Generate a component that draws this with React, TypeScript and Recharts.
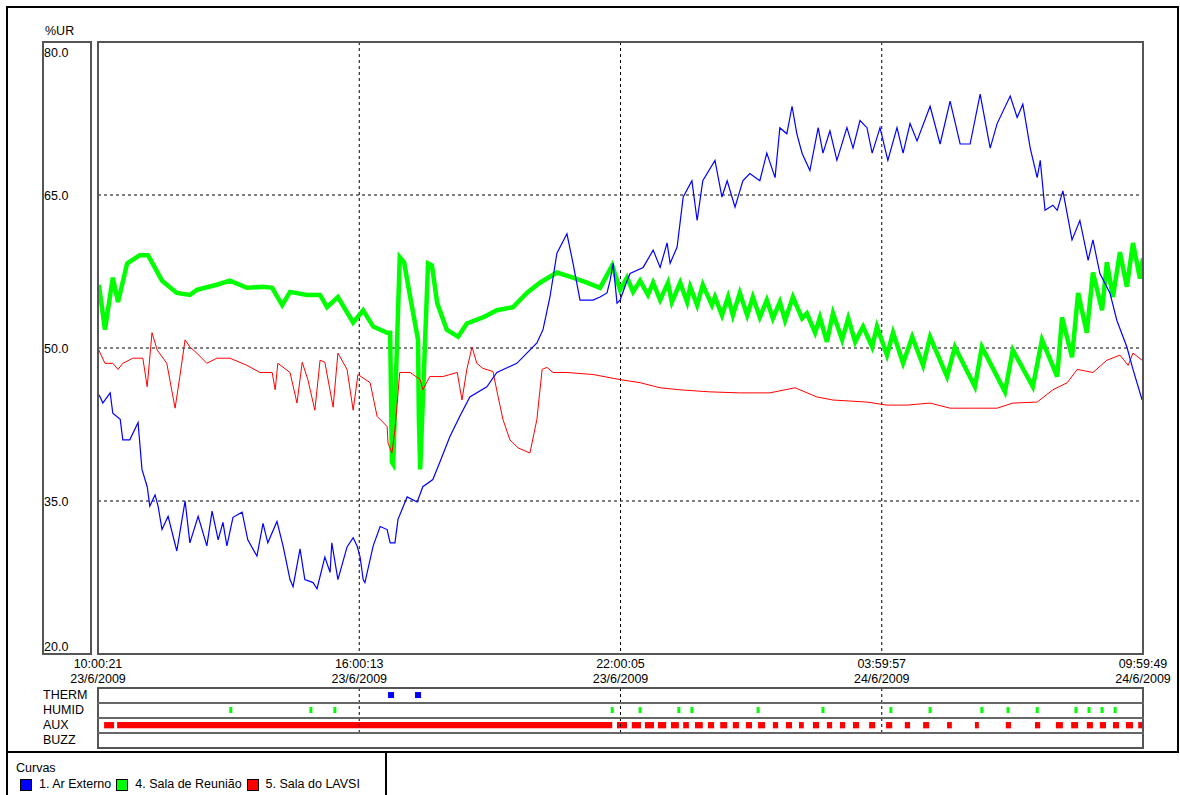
import React from 'react';
import {
  LineChart,
  Line,
  XAxis,
  YAxis,
  CartesianGrid,
  ComposedChart,
  ReferenceArea,
  ReferenceDot,
  ReferenceLine,
} from 'recharts';

const FONT = '"Liberation Sans", Arial, Helvetica, sans-serif';
const FS = 12.5;

// ---- axes ----
const xTickHours = [0, 6, 12, 18, 24];
const xTickTimes = ['10:00:21', '16:00:13', '22:00:05', '03:59:57', '09:59:49'];
const xTickDates = ['23/6/2009', '23/6/2009', '23/6/2009', '24/6/2009', '24/6/2009'];
const yTicks = [20, 35, 50, 65, 80];
const yTickLabels = ['20.0', '35.0', '50.0', '65.0', '80.0'];
const yUnit = '%UR';

// ---- series: hours since 10:00:21 on 23/6/2009, values in %UR ----
const blueHours = [
  0.02, 0.05, 0.11, 0.28, 0.34, 0.51, 0.57, 0.73, 0.92, 1.01, 1.13, 1.19, 1.31, 1.38, 1.47, 1.61, 1.81, 1.88,
  2.0, 2.11, 2.3, 2.5, 2.62, 2.76, 2.87, 2.96, 3.1, 3.31, 3.44, 3.65, 3.79, 3.9, 4.11, 4.25, 4.41, 4.48, 4.64,
  4.75, 4.94, 5.03, 5.21, 5.33, 5.37, 5.51, 5.72, 5.86, 5.95, 6.02, 6.09, 6.13, 6.32, 6.48, 6.64, 6.71, 6.82,
  6.89, 7.1, 7.33, 7.46, 7.69, 7.85, 8.08, 8.31, 8.54, 8.93, 9.16, 9.62, 10.08, 10.22, 10.38, 10.54, 10.77,
  10.91, 11.07, 11.37, 11.53, 11.69, 11.76, 11.83, 11.92, 11.99, 12.15, 12.22, 12.52, 12.75, 12.91, 13.07,
  13.14, 13.3, 13.44, 13.64, 13.76, 13.89, 14.17, 14.33, 14.45, 14.63, 14.81, 14.97, 15.2, 15.36, 15.55,
  15.66, 15.82, 15.94, 16.05, 16.17, 16.35, 16.54, 16.65, 16.81, 16.97, 17.2, 17.34, 17.5, 17.66, 17.78,
  17.96, 18.14, 18.35, 18.49, 18.65, 18.81, 19.11, 19.34, 19.57, 19.8, 20.03, 20.26, 20.49, 20.65, 20.95,
  21.11, 21.24, 21.41, 21.57, 21.64, 21.75, 21.93, 22.03, 22.16, 22.37, 22.55, 22.74, 22.85, 23.01, 23.24,
  23.4, 23.63, 23.77, 23.98,
];
const blueValues = [
  45.4, 45.2, 44.6, 45.6, 43.6, 43.0, 41.0, 41.0, 42.7, 38.1, 36.4, 34.5, 35.6, 34.5, 32.2, 33.5, 30.1, 31.9,
  35.0, 30.9, 33.5, 30.6, 34.0, 31.2, 32.9, 30.6, 33.4, 33.9, 31.2, 29.6, 32.8, 30.9, 33.0, 30.6, 27.3, 26.6,
  30.3, 27.3, 27.0, 26.4, 29.5, 28.0, 30.9, 27.3, 30.5, 31.4, 30.6, 29.5, 27.3, 27.0, 30.6, 32.5, 32.2, 30.9,
  30.9, 33.2, 35.4, 34.9, 36.4, 37.1, 38.8, 41.3, 43.3, 45.2, 46.2, 47.6, 48.5, 50.5, 51.8, 55.0, 59.3, 61.2,
  58.3, 54.7, 54.7, 55.0, 55.4, 56.6, 58.3, 54.4, 54.7, 56.6, 57.3, 57.9, 59.6, 57.9, 60.3, 58.3, 59.9, 64.8,
  66.4, 62.5, 66.4, 68.4, 64.8, 66.4, 63.8, 66.4, 67.1, 66.4, 69.1, 66.7, 71.6, 71.0, 73.7, 71.0, 69.1, 67.4,
  71.6, 69.1, 71.3, 68.4, 71.6, 69.6, 72.3, 71.6, 69.1, 71.6, 68.4, 71.6, 69.1, 72.0, 70.3, 73.7, 70.0, 74.2,
  70.0, 70.0, 74.9, 69.6, 72.0, 74.7, 72.6, 73.9, 69.6, 66.7, 68.4, 63.5, 64.0, 63.5, 65.4, 60.6, 62.5, 58.6,
  60.6, 57.3, 55.4, 52.7, 50.1, 47.9, 44.9,
];

const greenHours = [
  0.02, 0.16, 0.34, 0.46, 0.67, 0.96, 1.15, 1.47, 1.81, 2.11, 2.27, 2.73, 3.03, 3.42, 3.79, 4.0, 4.23, 4.41,
  4.8, 5.1, 5.26, 5.51, 5.86, 6.09, 6.32, 6.64, 6.71, 6.75, 6.78, 6.93, 7.03, 7.17, 7.35, 7.37, 7.4, 7.58,
  7.67, 7.79, 8.01, 8.27, 8.47, 8.84, 9.16, 9.53, 9.85, 10.15, 10.54, 10.91, 11.23, 11.53, 11.81, 11.99,
  12.15, 12.29, 12.45, 12.63, 12.75, 12.91, 13.09, 13.18, 13.37, 13.53, 13.6, 13.76, 13.89, 14.1, 14.17,
  14.33, 14.47, 14.58, 14.74, 14.91, 15.04, 15.2, 15.36, 15.5, 15.66, 15.78, 15.96, 16.17, 16.28, 16.47,
  16.58, 16.74, 16.88, 17.09, 17.23, 17.39, 17.57, 17.78, 17.89, 18.12, 18.26, 18.49, 18.7, 18.95, 19.11,
  19.5, 19.68, 20.14, 20.3, 20.83, 21.01, 21.47, 21.68, 22.03, 22.14, 22.37, 22.51, 22.71, 22.85, 23.06,
  23.17, 23.31, 23.47, 23.63, 23.77, 23.93, 24.0,
];
const greenValues = [
  56.2, 51.8, 56.9, 54.5, 58.3, 59.1, 59.1, 56.6, 55.4, 55.2, 55.7, 56.2, 56.6, 55.9, 56.0, 55.9, 54.2, 55.5,
  55.2, 55.2, 54.0, 55.0, 52.5, 53.7, 52.1, 51.5, 51.5, 38.8, 38.6, 58.9, 58.4, 55.0, 50.8, 43.0, 38.1, 58.3,
  58.1, 54.4, 51.8, 51.1, 52.4, 53.0, 53.7, 54.0, 55.4, 56.4, 57.4, 56.9, 56.4, 55.9, 58.1, 55.7,
  56.9, 55.5, 56.6, 55.2, 56.4, 54.7, 56.4, 54.5, 56.4, 54.5, 56.0, 54.2, 56.2, 54.2, 55.0,
  53.2, 55.0, 53.2, 55.4, 53.2, 55.0, 53.0, 54.7, 52.9, 54.5, 52.7, 55.0, 52.9, 53.4, 51.5,
  53.0, 50.6, 53.4, 50.8, 52.9, 50.6, 52.1, 50.1, 52.1, 49.3, 51.5, 48.5, 51.1, 48.3, 51.1,
  47.2, 50.1, 46.2, 50.1, 45.7, 49.8, 46.2, 50.8, 47.2, 53.0, 49.1, 55.4, 51.5, 57.4, 53.7,
  58.4, 55.0, 59.4, 56.0, 60.3, 56.8, 58.8,
];

const redHours = [
  0.02, 0.05, 0.16, 0.34, 0.46, 0.57, 0.8, 1.03, 1.13, 1.24, 1.36, 1.58, 1.77, 1.88, 2.0, 2.11, 2.27, 2.5,
  2.73, 3.03, 3.42, 3.72, 4.0, 4.07, 4.13, 4.41, 4.57, 4.69, 4.82, 4.98, 5.1, 5.21, 5.4, 5.51, 5.72, 5.86,
  5.97, 6.25, 6.41, 6.64, 6.66, 6.75, 6.82, 6.93, 7.17, 7.4, 7.46, 7.62, 7.92, 8.25, 8.36, 8.47, 8.59, 8.7,
  8.84, 9.07, 9.19, 9.3, 9.46, 9.65, 9.92, 10.08, 10.2, 10.31, 10.45, 10.77, 11.37, 11.99, 12.45, 12.91,
  13.37, 14.05, 14.74, 15.43, 16.01, 16.51, 16.88, 17.66, 18.12, 18.58, 19.11, 19.57, 20.1, 20.65, 21.01,
  21.57, 21.93, 22.26, 22.49, 22.85, 23.17, 23.47, 23.66, 23.77, 23.98,
];
const redValues = [
  49.8, 49.5, 48.5, 48.5, 47.9, 48.5, 49.0, 49.0, 46.2, 51.5, 49.8, 48.5, 44.1, 47.2, 50.8, 50.1, 49.5, 48.5,
  49.0, 49.0, 48.3, 47.6, 47.6, 45.9, 48.5, 47.6, 44.6, 48.6, 46.9, 43.9, 48.8, 48.6, 44.2, 49.5, 47.9, 43.9,
  47.4, 46.6, 43.3, 42.3, 40.7, 39.7, 42.0, 47.6, 47.6, 46.9, 45.9, 47.2, 47.2, 47.6, 44.9, 47.9, 50.1, 48.5,
  48.0, 47.7, 45.2, 43.0, 41.0, 40.2, 39.7, 43.0, 47.9, 48.1, 47.6, 47.6, 47.4, 46.9, 46.6, 46.1,
  45.9, 45.7, 45.6, 45.6, 46.1, 45.2, 44.9, 44.7, 44.4, 44.4, 44.6, 44.1, 44.1, 44.1, 44.6,
  44.7, 45.9, 46.6, 47.9, 47.6, 48.8, 49.3, 48.3, 49.5, 48.8,
];

// ---- event strips (hours) ----
const stripLabels = ['THERM', 'HUMID', 'AUX', 'BUZZ'];
const thermEvents = [6.73, 7.35];
const humidEvents = [
  3.05, 4.89, 5.44, 11.81, 12.45, 13.34, 13.64, 15.16, 16.65, 18.21, 19.11, 20.3, 20.9, 21.57, 22.46, 22.76,
  23.06, 23.36,
];
const auxStarts = [
  0.14, 0.44, 11.92, 12.26, 12.56, 12.86, 13.16, 13.44, 13.71, 14.01, 14.29, 14.58, 14.88, 15.16, 15.5, 15.8,
  16.1, 16.42, 16.74, 17.04, 17.34, 17.71, 18.1, 18.53, 18.95, 19.5, 20.14, 20.85, 21.52, 22.0, 22.35, 22.71,
  23.01, 23.31, 23.61, 23.89,
];
const auxEnds = [
  0.37, 11.81, 12.15, 12.47, 12.77, 13.05, 13.34, 13.57, 13.89, 14.15, 14.45, 14.72, 15.02, 15.32, 15.62,
  15.94, 16.21, 16.56, 16.86, 17.16, 17.48, 17.85, 18.24, 18.65, 19.09, 19.61, 20.23, 20.97, 21.64, 22.16,
  22.51, 22.85, 23.15, 23.45, 23.77, 23.98,
];

// ---- legend ----
const legendTitle = 'Curvas';
const seriesNames = ['1. Ar Externo', '4. Sala de Reunião', '5. Sala do LAVSI'];
const seriesColors = ['#0000ff', '#00ff00', '#ff0000'];

const zip = (hs: number[], vs: number[]) => hs.map((h, i) => ({ h, v: vs[i] }));
const blueData = zip(blueHours, blueValues);
const greenData = zip(greenHours, greenValues);
const redData = zip(redHours, redValues);

const YTick = (props: any) => {
  const { y, payload } = props;
  const v = payload.value;
  const label = yTickLabels[yTicks.indexOf(v)];
  let yy = y + 4.5;
  if (v === 80) yy = y + 15;
  if (v === 20) yy = y - 3;
  return (
    <text x={44} y={yy} fontSize={FS} fontFamily={FONT} fill="#000" textAnchor="start">
      {label}
    </text>
  );
};

const XTick = (props: any) => {
  const { x, payload } = props;
  const i = xTickHours.indexOf(payload.value);
  return (
    <g>
      <text x={x} y={668} fontSize={FS} fontFamily={FONT} fill="#000" textAnchor="middle">
        {xTickTimes[i]}
      </text>
      <text x={x} y={683} fontSize={FS} fontFamily={FONT} fill="#000" textAnchor="middle">
        {xTickDates[i]}
      </text>
    </g>
  );
};

const box = (left: number, top: number, width: number, height: number, border: string): React.CSSProperties => ({
  position: 'absolute',
  left,
  top,
  width,
  height,
  border,
  boxSizing: 'border-box',
  pointerEvents: 'none',
});

export default function App() {
  return (
    <div
      style={{
        position: 'absolute',
        left: 0,
        top: 0,
        width: 1180,
        height: 795,
        background: '#fff',
        overflow: 'hidden',
        fontFamily: FONT,
        fontSize: FS,
        color: '#000',
      }}
    >
      {/* main chart */}
      <div style={{ position: 'absolute', left: 0, top: 0 }}>
        <LineChart width={1180} height={700} margin={{ top: 42, right: 37, bottom: 6, left: 0 }}>
          <CartesianGrid stroke="#000" strokeDasharray="3 3" />
          <XAxis
            type="number"
            dataKey="h"
            domain={[0, 24]}
            ticks={xTickHours}
            interval={0}
            allowDataOverflow
            axisLine={false}
            tickLine={false}
            height={40}
            tick={<XTick />}
          />
          <YAxis
            type="number"
            domain={[20, 80]}
            ticks={yTicks}
            interval={0}
            allowDataOverflow
            axisLine={false}
            tickLine={false}
            width={98}
            tick={<YTick />}
          />
          <Line
            data={greenData}
            dataKey="v"
            type="linear"
            stroke={seriesColors[1]}
            strokeWidth={4.5}
            dot={false}
            isAnimationActive={false}
            strokeLinejoin="miter"
          />
          <Line
            data={redData}
            dataKey="v"
            type="linear"
            stroke={seriesColors[2]}
            strokeWidth={1}
            dot={false}
            isAnimationActive={false}
          />
          <Line
            data={blueData}
            dataKey="v"
            type="linear"
            stroke={seriesColors[0]}
            strokeWidth={1.2}
            dot={false}
            isAnimationActive={false}
          />
        </LineChart>
      </div>

      {/* event strips */}
      <div style={{ position: 'absolute', left: 0, top: 688 }}>
        <ComposedChart width={1180} height={60} margin={{ top: 0, right: 37, bottom: 0, left: 98 }}>
          <XAxis hide type="number" dataKey="h" domain={[0, 24]} allowDataOverflow />
          <YAxis hide type="number" domain={[0, 4]} reversed allowDataOverflow />
          {xTickHours.slice(1, 4).map((h) => (
            <ReferenceLine
              key={'g' + h}
              segment={[
                { x: h, y: 0 },
                { x: h, y: 3 },
              ]}
              stroke="#000"
              strokeDasharray="3 3"
            />
          ))}
          {auxStarts.map((s, i) => (
            <ReferenceArea
              key={'a' + i}
              x1={s}
              x2={auxEnds[i]}
              y1={2 + 0.27}
              y2={2 + 0.69}
              fill="#ff0000"
              fillOpacity={1}
              stroke="none"
            />
          ))}
          {thermEvents.map((t, i) => (
            <ReferenceDot
              key={'t' + i}
              x={t}
              y={0.47}
              shape={(p: any) => <rect x={p.cx - 3} y={p.cy - 3} width={6} height={6} fill="#0000ff" />}
            />
          ))}
          {humidEvents.map((t, i) => (
            <ReferenceDot
              key={'h' + i}
              x={t}
              y={1.47}
              shape={(p: any) => <rect x={p.cx - 1.5} y={p.cy - 3} width={3} height={6} fill="#00ff00" />}
            />
          ))}
        </ComposedChart>
      </div>

      {/* frames */}
      <div style={box(6, 6, 1173, 747, '2px solid #000')} />
      <div style={box(6, 751, 381, 60, '2px solid #000')} />
      <div style={box(42, 41, 50, 614, '2px solid #555')} />
      <div style={box(97, 41, 1047, 614, '2px solid #555')} />
      <div style={box(97, 687, 1047, 62, '2px solid #555')} />
      {[702, 717, 732].map((y) => (
        <div key={y} style={{ position: 'absolute', left: 97, top: y, width: 1047, height: 2, background: '#666' }} />
      ))}

      {/* y unit */}
      <div style={{ position: 'absolute', left: 45, top: 24, lineHeight: '15px' }}>{yUnit}</div>

      {/* strip labels */}
      {stripLabels.map((s, i) => (
        <div key={s} style={{ position: 'absolute', left: 43, top: 688 + i * 15, lineHeight: '15px' }}>
          {s}
        </div>
      ))}

      {/* legend */}
      <div style={{ position: 'absolute', left: 16, top: 761, lineHeight: '15px' }}>{legendTitle}</div>
      <div style={{ position: 'absolute', left: 20, top: 777, display: 'flex', alignItems: 'center', lineHeight: '15px' }}>
        {seriesNames.map((n, i) => (
          <div key={n} style={{ display: 'flex', alignItems: 'center', marginRight: 5 }}>
            <span
              style={{
                display: 'inline-block',
                width: 12,
                height: 12,
                boxSizing: 'border-box',
                border: '1px solid #000',
                background: seriesColors[i],
                marginRight: 7,
              }}
            />
            <span>{n}</span>
          </div>
        ))}
      </div>
    </div>
  );
}
